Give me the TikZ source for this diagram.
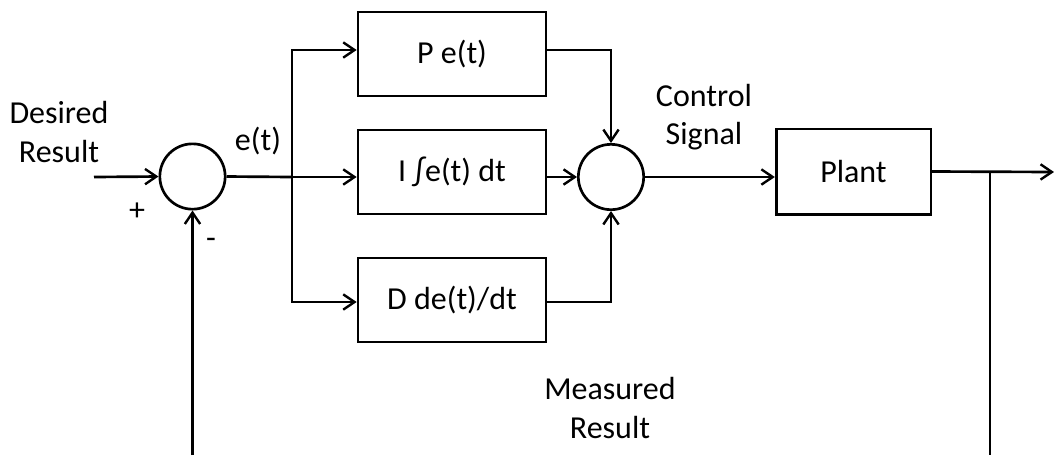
\documentclass[tikz,border=0pt]{standalone}
\usepackage{fontspec}
\setmainfont{Carlito}
\usetikzlibrary{arrows.meta}
\begin{document}
\begin{tikzpicture}[x=0.75pt,y=-0.75pt,
  line width=2pt,
  every node/.style={font=\fontsize{24}{29}\selectfont, inner sep=0pt},
  blk/.style={draw, rectangle, minimum width=141pt, minimum height=63pt},
  sumnode/.style={draw, circle, minimum size=49pt},
  lbl/.style={align=center},
  arr/.style={-{Straight Barb[length=8.5pt,width=11.5pt,line width=1.8pt]}}
]
\useasboundingbox (0,0) rectangle (1054,455);
% nodes
\node[sumnode] (s1) at (192.5,176.5) {};
\node[sumnode] (s2) at (611,177) {};
\node[blk] (P) at (452,54) {P e(t)};
\node[blk] (I) at (452,172) {I ∫e(t) dt};
\node[blk] (D) at (452,300) {D de(t)/dt};
\node[blk, minimum width=116pt, minimum height=64pt] (plant) at (853.5,171.5) {Plant};
% labels
\node[lbl] (desired) at (59,132) {Desired\\Result};
\node (plus) at (137,212) {+};
\node (minus) at (211,243) {-};
\node (et) at (258,141) {e(t)};
\node[lbl] (ctrl) at (704,117) {Control\\Signal};
\node[lbl] (meas) at (610,408) {Measured\\Result};
% coordinates
\coordinate (in) at (94,177);
\coordinate (br) at (292,177);
\coordinate (out) at (1054,172);
\coordinate (j) at (990,172);
\coordinate (fbr) at (990,455);
\coordinate (fbl) at (192.5,455);
% connectors
\draw[arr] (in) -- (s1.west);
\draw (s1.east) -- (br);
\draw[arr] (br) -- (br -| I.west);
\draw[arr] (br) |- ([yshift=3pt]P.west);
\draw[arr] (br) |- ([yshift=-1.5pt]D.west);
\draw[arr] ([yshift=3pt]P.east) -| (s2.north);
\draw[arr] ([yshift=-1.5pt]D.east) -| (s2.south);
\draw[arr] (I.east |- s2.west) -- (s2.west);
\draw[arr] (s2.east) -- (s2.east -| plant.west);
\draw[arr] (plant.east) -- (out);
\draw (j) -- (fbr);
\draw[arr] (fbl) -- (s1.south);
\end{tikzpicture}
\end{document}
